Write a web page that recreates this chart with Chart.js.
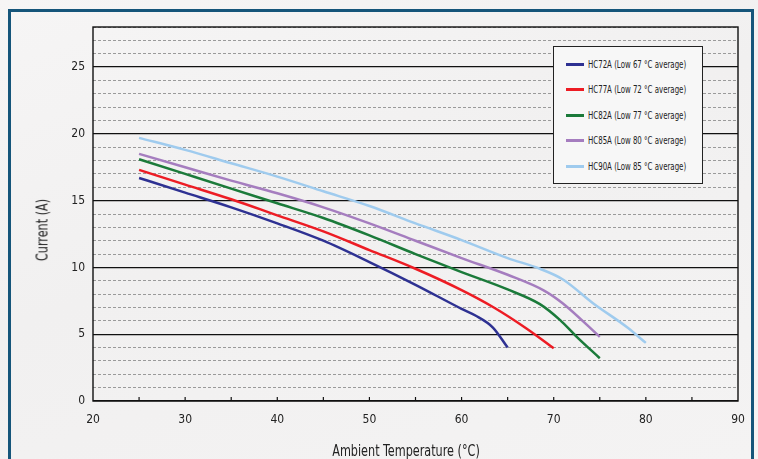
<!DOCTYPE html>
<html>
<head>
<meta charset="utf-8">
<script src="https://cdn.jsdelivr.net/npm/chart.js@4"></script>
<style>
  html, body { margin: 0; padding: 0; }
  body {
    width: 758px; height: 459px; overflow: hidden; position: relative;
    background: linear-gradient(160deg, #f6f5f5 0%, #f1f0f0 45%, #f4f3f3 100%);
    font-family: "DejaVu Sans Condensed", "DejaVu Sans", sans-serif;
  }
  #frame {
    position: absolute; left: 8px; top: 9px; width: 740px; height: 470px;
    border: 3px solid #15557a; border-bottom: none;
  }
  #chart { position: absolute; left: 0; top: 0; }
  #legend {
    position: absolute; left: 553px; top: 46px; width: 148px; height: 136px;
    border: 1.5px solid #222; background: #f7f7f7;
  }
  .row { position: absolute; left: 12px; height: 14px; display: flex; align-items: center; }
  .swatch { width: 18px; height: 3px; margin-right: 4px; }
  .label { display: inline-block; font-size: 10px; color: #222; white-space: nowrap;
           transform: scaleX(0.78); transform-origin: left center; }
  .axis-title { position: absolute; font-size: 16px; color: #222; white-space: nowrap; }
  #xTitle { left: 406px; top: 450px; transform: translate(-50%, -50%) scaleX(0.78); }
  #yTitle { left: 42px; top: 230px; transform: translate(-50%, -50%) rotate(-90deg) scaleX(0.78); }
</style>
</head>
<body>
<div id="frame"></div>
<canvas id="chart" width="758" height="459"></canvas>
<div id="legend"></div>
<div class="axis-title" id="xTitle">Ambient Temperature (°C)</div>
<div class="axis-title" id="yTitle">Current (A)</div>
<script>
// Dữ liệu
const seriesNames = [
  "HC72A (Low 67 °C average)",
  "HC77A (Low 72 °C average)",
  "HC82A (Low 77 °C average)",
  "HC85A (Low 80 °C average)",
  "HC90A (Low 85 °C average)"
];
const seriesColors = ["#2e3192", "#ed1c24", "#1b7a3a", "#a57dbf", "#9fcbee"];

const hc72aTemp = [25, 30, 35, 40, 45, 50, 55, 60, 61.5, 63.4, 65];
const hc72aCurrent = [16.7, 15.6, 14.5, 13.3, 12.0, 10.4, 8.7, 6.9, 6.4, 5.5, 4.0];

const hc77aTemp = [25, 30, 35, 40, 45, 50, 55, 60, 63.5, 67, 70];
const hc77aCurrent = [17.3, 16.2, 15.1, 13.9, 12.7, 11.3, 9.9, 8.3, 7.0, 5.45, 3.95];

const hc82aTemp = [25, 30, 35, 40, 45, 50, 55, 60, 65, 68.5, 70.7, 72.5, 75];
const hc82aCurrent = [18.1, 17.0, 15.9, 14.8, 13.7, 12.4, 11.0, 9.65, 8.35, 7.25, 6.05, 4.8, 3.2];

const hc85aTemp = [25, 30, 35, 40, 45, 50, 55, 60, 65, 69, 71, 75];
const hc85aCurrent = [18.5, 17.5, 16.5, 15.55, 14.5, 13.3, 12.0, 10.7, 9.45, 8.25, 7.3, 4.8];

const hc90aTemp = [25, 30, 35, 40, 45, 50, 55, 60, 65, 68.5, 71, 74.3, 78, 80];
const hc90aCurrent = [19.7, 18.8, 17.8, 16.8, 15.7, 14.6, 13.3, 12.05, 10.7, 9.9, 9.1, 7.3, 5.5, 4.35];

const xTicks = [20, 30, 40, 50, 60, 70, 80, 90];
const yTicks = [0, 5, 10, 15, 20, 25];

const temps = [hc72aTemp, hc77aTemp, hc82aTemp, hc85aTemp, hc90aTemp];
const currents = [hc72aCurrent, hc77aCurrent, hc82aCurrent, hc85aCurrent, hc90aCurrent];

const datasets = seriesNames.map((name, i) => ({
  label: name,
  data: temps[i].map((t, j) => ({ x: t, y: currents[i][j] })),
  borderColor: seriesColors[i],
  borderWidth: 2.5,
  pointRadius: 0,
  fill: false,
  cubicInterpolationMode: "monotone"
}));

// Khung vùng vẽ + vạch chia hướng vào trong trục X
const frameLines = {
  id: "frameLines",
  afterDatasetsDraw(chart) {
    const { ctx, chartArea: a, scales } = chart;
    ctx.save();
    ctx.strokeStyle = "#111";
    ctx.lineWidth = 1.4;
    ctx.strokeRect(a.left, a.top, a.right - a.left, a.bottom - a.top);
    ctx.lineWidth = 1.2;
    for (let v = 25; v < 90; v += 5) {
      const px = scales.x.getPixelForValue(v);
      ctx.beginPath();
      ctx.moveTo(px, a.bottom);
      ctx.lineTo(px, a.bottom - 4);
      ctx.stroke();
    }
    ctx.restore();
  }
};

const font = "'DejaVu Sans Condensed', 'DejaVu Sans', sans-serif";

new Chart(document.getElementById("chart"), {
  type: "line",
  data: { datasets: datasets },
  plugins: [frameLines],
  options: {
    responsive: false,
    animation: false,
    layout: { padding: { left: 0, top: 27, right: 20, bottom: 0 } },
    plugins: { legend: { display: false }, tooltip: { enabled: false } },
    scales: {
      x: {
        type: "linear",
        min: 20, max: 90,
        afterFit: s => { s.height = 58; },
        afterBuildTicks: s => { s.ticks = xTicks.map(v => ({ value: v })); },
        ticks: { color: "#222", padding: 12, font: { family: font, size: 12 } },
        grid: { display: false, drawTicks: false },
        border: { display: false }
      },
      y: {
        min: 0, max: 28,
        afterFit: s => { s.width = 93; },
        afterBuildTicks: s => { s.ticks = yTicks.map(v => ({ value: v })); },
        ticks: { color: "#222", padding: 8, font: { family: font, size: 12 } },
        grid: { color: "#111", lineWidth: 1.3, drawTicks: false },
        border: { display: false }
      },
      yMinor: {
        position: "left",
        min: 0, max: 28,
        afterFit: s => { s.width = 0; },
        ticks: { display: false, stepSize: 1 },
        grid: {
          color: c => (c.tick.value % 5 === 0 ? "rgba(0,0,0,0)" : "#9a9a9a"),
          lineWidth: 1, drawTicks: false
        },
        border: { display: false, dash: [3, 2] }
      }
    }
  }
});

// Chú giải HTML
const legend = document.getElementById("legend");
seriesNames.forEach((name, i) => {
  const row = document.createElement("div");
  row.className = "row";
  row.style.top = (10 + i * 25.6) + "px";
  row.innerHTML = '<div class="swatch" style="background:' + seriesColors[i] + '"></div>' +
    '<span class="label">' + name + '</span>';
  legend.appendChild(row);
});
</script>
</body>
</html>
